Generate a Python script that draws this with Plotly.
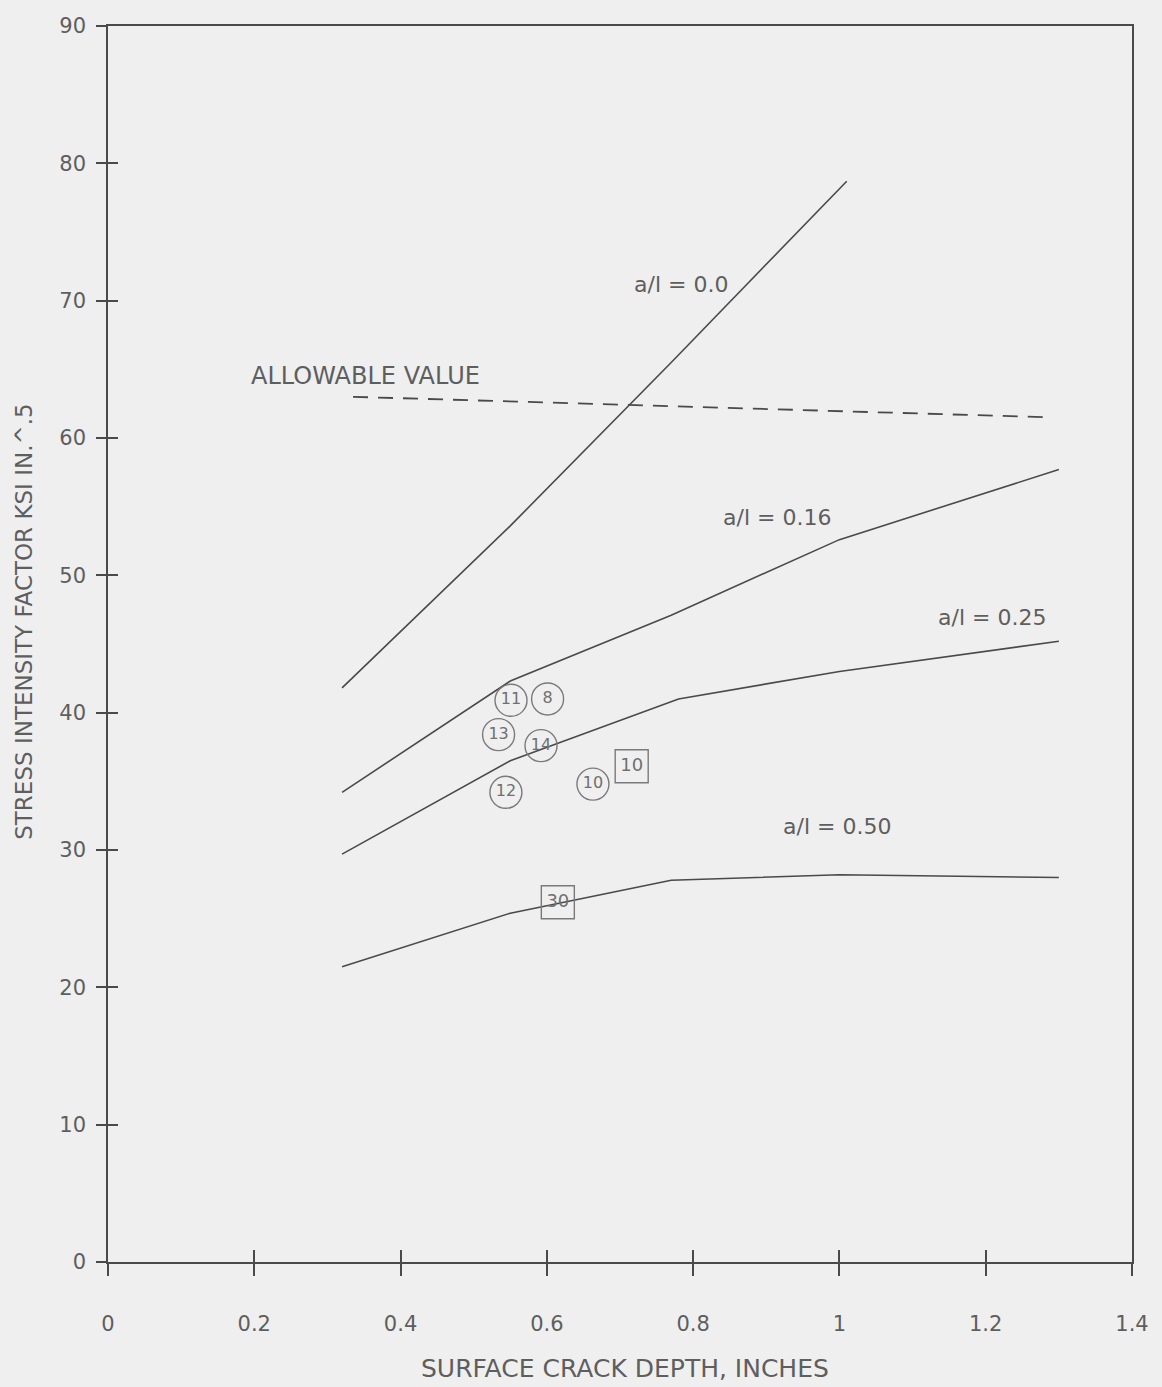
import plotly.graph_objects as go

# ---- data ----
depth_00 = [0.32, 0.55, 0.77, 1.01]
k_00 = [41.8, 53.6, 65.5, 78.7]

depth_016 = [0.32, 0.55, 0.77, 1.0, 1.3]
k_016 = [34.2, 42.3, 47.1, 52.6, 57.7]

depth_025 = [0.32, 0.55, 0.78, 1.0, 1.3]
k_025 = [29.7, 36.5, 41.0, 43.0, 45.2]

depth_050 = [0.32, 0.55, 0.77, 1.0, 1.3]
k_050 = [21.5, 25.4, 27.8, 28.2, 28.0]

allow_depth = [0.335, 1.29]
allow_k = [63.0, 61.5]

circle_labels = ["11", "8", "13", "14", "12", "10"]
circle_x = [0.551, 0.601, 0.534, 0.592, 0.544, 0.663]
circle_y = [40.9, 41.0, 38.4, 37.6, 34.2, 34.8]

square_labels = ["10", "30"]
square_x = [0.716, 0.615]
square_y = [36.1, 26.2]

curve_labels = ["a/l = 0.0", "a/l = 0.16", "a/l = 0.25", "a/l = 0.50"]
curve_label_x = [0.784, 0.914, 1.208, 0.996]
curve_label_y = [71.2, 54.2, 46.9, 31.7]

x_ticks = [0, 0.2, 0.4, 0.6, 0.8, 1, 1.2, 1.4]
x_tick_text = ["0", "0.2", "0.4", "0.6", "0.8", "1", "1.2", "1.4"]
y_ticks = [0, 10, 20, 30, 40, 50, 60, 70, 80, 90]

LINE = "#4a4a4a"
TEXT = "#5e5e5e"
BG = "#efefef"
FONT = "DejaVu Sans"

fig = go.Figure()

for xs, ys in [(depth_00, k_00), (depth_016, k_016), (depth_025, k_025), (depth_050, k_050)]:
    fig.add_trace(go.Scatter(x=xs, y=ys, mode="lines",
                             line=dict(color=LINE, width=1.6), showlegend=False, hoverinfo="skip"))

fig.add_trace(go.Scatter(x=allow_depth, y=allow_k, mode="lines",
                         line=dict(color=LINE, width=1.8, dash="15px,10px"),
                         showlegend=False, hoverinfo="skip"))

fig.add_trace(go.Scatter(x=circle_x, y=circle_y, mode="markers+text", text=circle_labels,
                         textposition="middle center",
                         textfont=dict(family=FONT, size=16, color="#707070"),
                         marker=dict(symbol="circle-open", size=32, color="#7a7a7a",
                                     line=dict(width=1.4, color="#7a7a7a")),
                         showlegend=False, hoverinfo="skip"))

fig.add_trace(go.Scatter(x=square_x, y=square_y, mode="markers+text", text=square_labels,
                         textposition="middle center",
                         textfont=dict(family=FONT, size=18, color="#707070"),
                         marker=dict(symbol="square-open", size=33, color="#7a7a7a",
                                     line=dict(width=1.4, color="#7a7a7a")),
                         showlegend=False, hoverinfo="skip"))

# dummy trace to hold the inner tick axes
fig.add_trace(go.Scatter(x=[None], y=[None], xaxis="x2", yaxis="y2",
                         showlegend=False, hoverinfo="skip"))

for t, x, y in zip(curve_labels, curve_label_x, curve_label_y):
    fig.add_annotation(x=x, y=y, text=t, showarrow=False,
                       font=dict(family=FONT, size=22, color=TEXT))

fig.add_annotation(x=0.352, y=64.5, text="ALLOWABLE VALUE", showarrow=False,
                   font=dict(family=FONT, size=24, color=TEXT))

fig.add_annotation(x=0.505, y=-0.0865, xref="paper", yref="paper",
                   xanchor="center", yanchor="middle",
                   text="SURFACE CRACK DEPTH, INCHES", showarrow=False,
                   font=dict(family=FONT, size=25, color=TEXT))

fig.add_annotation(x=-0.082, y=0.518, xref="paper", yref="paper", textangle=-90,
                   xanchor="center", yanchor="middle",
                   text="STRESS INTENSITY FACTOR KSI IN.^.5", showarrow=False,
                   font=dict(family=FONT, size=23, color=TEXT))

axis_common = dict(showgrid=False, zeroline=False)

fig.update_layout(
    width=1162, height=1387,
    margin=dict(l=108, r=30, t=26, b=125),
    paper_bgcolor=BG, plot_bgcolor=BG,
    xaxis=dict(range=[0, 1.4], tickvals=x_ticks, ticktext=x_tick_text,
               ticks="outside", ticklen=12, tickwidth=1.5, tickcolor=LINE,
               showline=True, linecolor=LINE, linewidth=1.6, mirror=True,
               tickfont=dict(family=FONT, size=21, color=TEXT),
               ticklabelstandoff=30, **axis_common),
    yaxis=dict(range=[0, 90], tickvals=y_ticks,
               ticks="outside", ticklen=10, tickwidth=1.5, tickcolor=LINE,
               showline=True, linecolor=LINE, linewidth=1.6, mirror=True,
               tickfont=dict(family=FONT, size=21, color=TEXT),
               ticklabelstandoff=6, **axis_common),
    xaxis2=dict(range=[0, 1.4], tickvals=x_ticks, overlaying="x",
                ticks="inside", ticklen=12, tickwidth=1.5, tickcolor=LINE,
                showticklabels=False, showline=False, **axis_common),
    yaxis2=dict(range=[0, 90], tickvals=y_ticks, overlaying="y",
                ticks="inside", ticklen=10, tickwidth=1.5, tickcolor=LINE,
                showticklabels=False, showline=False, **axis_common),
)

fig.write_html(
    "out.html",
    config={"displayModeBar": False},
    post_script="document.body.style.margin='0';document.body.style.background='#efefef';",
)
